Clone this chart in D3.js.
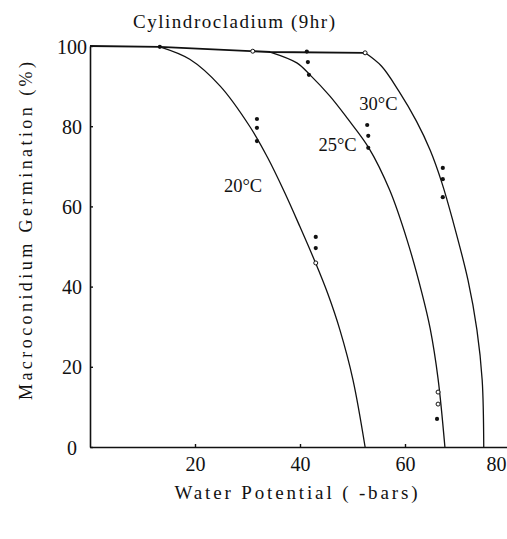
<!DOCTYPE html>
<html>
<head>
<meta charset="utf-8">
<script src="https://cdn.jsdelivr.net/npm/d3@7"></script>
<style>
  body { margin: 0; background: #fff; }
  svg { display: block; }
  text { font-family: 'Liberation Serif', 'DejaVu Serif', serif; fill: #111; }
</style>
</head>
<body>
<svg id="chart"></svg>
<script>
// chart text
let title = 'Cylindrocladium (9hr)';
let xLabel = 'Water Potential ( -bars)';
let yLabel = 'Macroconidium Germination (%)';
let xTicks = [20, 40, 60, 80];
let yTicks = [0, 20, 40, 60, 80, 100];

// fitted curves [water potential, % germination]
// common 100% plateau, then one falling branch per temperature
let plateau = [[0,100],[13.3,99.8],[34.3,98.5],[52.4,98.3]];
let curveNames = ['20°C', '25°C', '30°C'];
let drop20 = [[13.3,99.8],[19,96.7],[24.8,90],[30.5,79.8],[33.9,72],[37.1,63.4],[40,54.9],[42.9,46.1],[45.3,38.2],[47.6,29.2],[50.1,16.7],[52.4,0]];
let drop25 = [[34.3,98.5],[39.4,95.8],[41.9,92.8],[45.7,87.5],[49,82],[53.1,74.6],[57.1,64],[60.4,51.6],[63.2,38.5],[64.8,29.5],[66.3,17],[67.6,0]];
let drop30 = [[52.4,98.3],[55.5,95],[58.8,88.8],[62.2,81.2],[64.8,74],[67,66],[69.1,56.5],[72,41.6],[73.7,29.2],[74.7,16.7],[75,0]];
// label anchor for each curve [x, y] in data units
let labelPos = [[25.5,63.5], [43.5,73.8], [51.3,84]];

// observations
let dots = [[13.3,99.8],[31.8,81.8],[31.8,79.6],[31.8,76.3],[43,52.4],[43,49.6],
            [41.3,98.6],[41.5,96],[41.7,92.8],[52.8,80.3],[53,77.6],[53,74.6],[66.1,7],
            [67.2,69.6],[67.2,66.8],[67.2,62.3]];
let openDots = [[31,98.7],[52.4,98.3],[43,45.9],[66.3,13.7],[66.3,10.7]];

let W = 507, H = 539;

let svg = d3.select('#chart')
            .attr('width', W)
            .attr('height', H);

let xScale = d3.scaleLinear()
               .domain([0, 80])
               .range([90, 510]);

let yScale = d3.scaleLinear()
               .domain([0, 100])
               .range([447, 46]);

//axes
let xAxis = d3.axisBottom(xScale)
              .tickValues(xTicks)
              .tickSize(-3)
              .tickSizeOuter(0)
              .tickPadding(10);

let yAxis = d3.axisLeft(yScale)
              .tickValues(yTicks)
              .tickSize(-3)
              .tickSizeOuter(0);

let gx = svg.append('g')
            .attr('id', 'x-axis')
            .attr('transform', 'translate(0,' + yScale(0) + ')')
            .call(xAxis);

let gy = svg.append('g')
            .attr('id', 'y-axis')
            .attr('transform', 'translate(' + xScale(0) + ',0)')
            .call(yAxis);

[gx, gy].forEach(g => {
    g.select('.domain').attr('stroke', '#111').attr('stroke-width', 1.6);
    g.selectAll('.tick line').attr('stroke', '#111').attr('stroke-width', 1.4);
    g.selectAll('.tick text')
     .attr('font-family', "'Liberation Serif', serif")
     .attr('font-size', 20)
     .attr('fill', '#111');
});

gx.selectAll('.tick text').attr('dy', '0.71em');
// last label sits inside the page edge like the original
gx.selectAll('.tick text').filter(d => d === 80).attr('dx', -14);

gy.selectAll('.tick text')
  .attr('text-anchor', 'middle')
  .attr('x', -18)
  .attr('dy', '0.35em');

// curves
let flatLine = d3.line()
                 .x(d => xScale(d[0]))
                 .y(d => yScale(d[1]));

let dropLine = d3.line()
                 .x(d => xScale(d[0]))
                 .y(d => yScale(d[1]))
                 .curve(d3.curveCatmullRom.alpha(0.5));

svg.append('path')
   .attr('class', 'plateau')
   .attr('d', flatLine(plateau))
   .attr('fill', 'none')
   .attr('stroke', '#111')
   .attr('stroke-width', 1.8);

svg.selectAll('.curve')
   .data([drop20, drop25, drop30])
   .enter()
   .append('path')
   .attr('class', 'curve')
   .attr('d', dropLine)
   .attr('fill', 'none')
   .attr('stroke', '#111')
   .attr('stroke-width', 1.3);

svg.selectAll('.dot')
   .data(dots)
   .enter()
   .append('circle')
   .attr('class', 'dot')
   .attr('cx', d => xScale(d[0]))
   .attr('cy', d => yScale(d[1]))
   .attr('r', 2.1)
   .attr('fill', '#111');

svg.selectAll('.open-dot')
   .data(openDots)
   .enter()
   .append('circle')
   .attr('class', 'open-dot')
   .attr('cx', d => xScale(d[0]))
   .attr('cy', d => yScale(d[1]))
   .attr('r', 2)
   .attr('fill', '#fff')
   .attr('stroke', '#111')
   .attr('stroke-width', 1);

svg.selectAll('.curve-label')
   .data(curveNames)
   .enter()
   .append('text')
   .attr('class', 'curve-label')
   .attr('x', (d, i) => xScale(labelPos[i][0]))
   .attr('y', (d, i) => yScale(labelPos[i][1]))
   .attr('font-size', 18.5)
   .text(d => d);

// titles
svg.append('text')
   .attr('x', 234)
   .attr('y', 28)
   .attr('text-anchor', 'middle')
   .attr('font-size', 19)
   .attr('textLength', 202)
   .attr('lengthAdjust', 'spacing')
   .text(title);

svg.append('text')
   .attr('x', 296)
   .attr('y', 499)
   .attr('text-anchor', 'middle')
   .attr('font-size', 19)
   .attr('textLength', 243)
   .attr('lengthAdjust', 'spacing')
   .text(xLabel);

svg.append('text')
   .attr('transform', 'translate(32,231) rotate(-90)')
   .attr('text-anchor', 'middle')
   .attr('font-size', 18)
   .attr('textLength', 338)
   .attr('lengthAdjust', 'spacing')
   .text(yLabel);
</script>
</body>
</html>
